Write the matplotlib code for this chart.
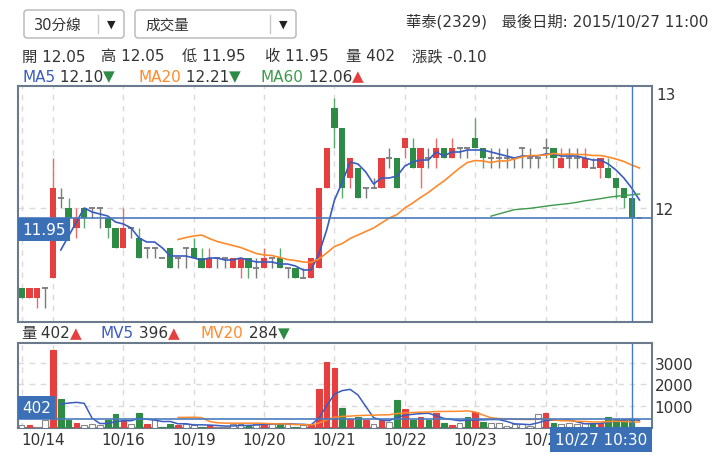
import numpy as np
import pandas as pd
import matplotlib
matplotlib.use('Agg')
import matplotlib.pyplot as plt
from matplotlib.patches import FancyBboxPatch

plt.rcParams['font.family'] = ['DejaVu Sans', 'Noto Sans CJK TC']

# 30分線 K棒 (index 0 = 10/13 最後幾根)
opens = [11.60, 11.55, 11.55, 11.60, 11.65, 12.05, 12.00, 11.90, 12.00, 12.00,
         12.00, 11.95, 11.90, 11.80, 11.90, 11.85, 11.80, 11.80, 11.75, 11.80,
         11.75, 11.80, 11.80, 11.75, 11.70, 11.75, 11.75, 11.70, 11.70, 11.75,
         11.70, 11.70, 11.75, 11.75, 11.70, 11.70, 11.65, 11.65, 11.70, 12.10,
         12.50, 12.40, 12.15, 12.20, 12.10, 12.10, 12.10, 12.25, 12.25, 12.30,
         12.30, 12.20, 12.25, 12.25, 12.30, 12.25, 12.30, 12.30, 12.35, 12.30,
         12.25, 12.25, 12.25, 12.25, 12.30, 12.25, 12.25, 12.30, 12.30, 12.20,
         12.25, 12.25, 12.20, 12.20, 12.20, 12.20, 12.15, 12.10, 12.05, 11.95]
highs = [11.60, 11.60, 11.60, 11.60, 12.25, 12.10, 12.05, 12.00, 12.00, 12.00,
         12.00, 11.95, 11.90, 12.00, 11.90, 11.90, 11.80, 11.80, 11.75, 11.80,
         11.75, 11.80, 11.85, 11.80, 11.80, 11.75, 11.75, 11.75, 11.75, 11.75,
         11.75, 11.80, 11.75, 11.80, 11.70, 11.70, 11.70, 11.75, 12.10, 12.30,
         12.55, 12.40, 12.25, 12.20, 12.10, 12.15, 12.25, 12.30, 12.25, 12.35,
         12.35, 12.30, 12.30, 12.35, 12.30, 12.35, 12.30, 12.30, 12.45, 12.30,
         12.30, 12.30, 12.30, 12.25, 12.30, 12.30, 12.25, 12.35, 12.30, 12.30,
         12.30, 12.30, 12.30, 12.25, 12.25, 12.25, 12.15, 12.10, 12.05, 11.95]
lows = [11.55, 11.55, 11.50, 11.50, 11.65, 12.00, 11.90, 11.85, 11.90, 11.95,
        11.90, 11.85, 11.80, 11.80, 11.85, 11.75, 11.75, 11.75, 11.75, 11.70,
        11.70, 11.70, 11.75, 11.70, 11.70, 11.70, 11.70, 11.70, 11.65, 11.65,
        11.65, 11.70, 11.70, 11.70, 11.65, 11.65, 11.65, 11.65, 11.70, 12.10,
        12.30, 12.05, 12.10, 12.05, 12.05, 12.10, 12.10, 12.20, 12.10, 12.25,
        12.20, 12.10, 12.20, 12.20, 12.25, 12.25, 12.25, 12.25, 12.30, 12.20,
        12.20, 12.20, 12.20, 12.20, 12.20, 12.20, 12.20, 12.25, 12.20, 12.20,
        12.20, 12.20, 12.20, 12.20, 12.15, 12.15, 12.05, 12.00, 11.95, 11.95]
closes = [11.55, 11.60, 11.60, 11.60, 12.10, 12.05, 11.95, 11.95, 11.95, 12.00,
          12.00, 11.90, 11.80, 11.90, 11.90, 11.75, 11.80, 11.80, 11.75, 11.70,
          11.75, 11.80, 11.75, 11.70, 11.75, 11.75, 11.75, 11.75, 11.75, 11.70,
          11.70, 11.75, 11.75, 11.70, 11.70, 11.65, 11.65, 11.75, 12.10, 12.30,
          12.40, 12.10, 12.25, 12.05, 12.10, 12.10, 12.25, 12.25, 12.10, 12.35,
          12.20, 12.30, 12.25, 12.30, 12.25, 12.30, 12.30, 12.30, 12.30, 12.25,
          12.25, 12.25, 12.25, 12.25, 12.30, 12.25, 12.25, 12.30, 12.25, 12.25,
          12.25, 12.25, 12.25, 12.20, 12.25, 12.15, 12.10, 12.05, 11.95, 11.95]
volumes = [124, 151, 60, 353, 3580, 1345, 381, 230, 124, 170,
           124, 381, 629, 353, 170, 689, 170, 427, 30, 184,
           151, 197, 151, 46, 124, 60, 60, 170, 170, 124,
           170, 170, 243, 243, 170, 60, 124, 124, 1790, 3015,
           2740, 918, 399, 505, 381, 170, 353, 275, 1271, 858,
           381, 505, 381, 702, 230, 124, 230, 505, 734, 270,
           210, 210, 100, 165, 190, 100, 620, 670, 210, 165,
           210, 165, 210, 210, 245, 505, 430, 398, 402, 15]
# 量的漲跌: u 漲, d 跌, n 平
vol_dir = "nunnuddunn" "nddundundd" "unndunnnnd" "nundndnuuu" \
          "ududunundu" "dududundud" "nnnnnnnudn" "nnnduddddn"

day_starts = [0, 4, 13, 22, 31, 40, 49, 58, 67, 76]
date_pos = [2.72, 13, 22, 31, 40, 49, 58, 67]
date_labels = ['10/14', '10/16', '10/19', '10/20', '10/21', '10/22', '10/23', '10/26']
cursor = 78
cursor_label = '10/27 10:30'

RED = '#e5403f'
GREEN = '#2e8b45'
GREY = '#7a7a7a'
BLUE = '#3a5cc0'
ORANGE = '#ff8a2b'
MGREEN = '#3d9a4c'
CROSS = '#4a7bbd'
TXT = '#333333'
FS = 11

W, H = 720, 464
fig = plt.figure(figsize=(W / 100, H / 100), dpi=100)

bg = fig.add_axes([0, 0, 1, 1], zorder=0)
bg.set_xlim(0, W)
bg.set_ylim(H, 0)
bg.axis('off')


def px_axes(l, t, r, b):
    return fig.add_axes([l / W, 1 - b / H, (r - l) / W, (b - t) / H], zorder=1)


ax = px_axes(18, 87, 652, 323)
axv = px_axes(18, 344, 652, 429)

o = np.array(opens)
h = np.array(highs)
lo = np.array(lows)
c = np.array(closes)
v = np.array(volumes)
x = np.arange(len(c))

up = c > o + 1e-9
dn = c < o - 1e-9
flat = ~(up | dn)


# 均線
def mavg(arr, n):
    s = pd.Series(arr).rolling(n).mean()
    s[:n] = np.nan
    return s.values


# 主圖
for a in (ax, axv):
    for d in day_starts:
        a.axvline(d, color='#dadada', lw=1, ls=(0, (4, 4)), zorder=0)
    for sp in a.spines.values():
        sp.set_color('#6b7b8c')
        sp.set_linewidth(1.5)
    a.set_xlim(-0.47, 80.6)
    a.tick_params(length=0, colors=TXT, labelsize=FS)

ax.axhline(12, color='#dadada', lw=1, ls=(0, (4, 4)), zorder=0)

wick_col = np.where(up, '#ee6a69', np.where(dn, '#5aa86c', GREY))
ax.vlines(x, lo, h, colors=wick_col, lw=1, zorder=2)
body_col = np.where(up, RED, GREEN)
m = ~flat
ax.bar(x[m], np.abs(c - o)[m], bottom=np.minimum(c, o)[m], width=0.8,
       color=body_col[m], zorder=3)
ax.hlines(c[flat], x[flat] - 0.38, x[flat] + 0.38, colors=GREY, lw=1.3, zorder=3)

ax.plot(x, mavg(c, 5), color=BLUE, lw=1.2, zorder=4)
ax.plot(x, mavg(c, 20), color=ORANGE, lw=1.2, zorder=4)
ax.plot(x, mavg(c, 60), color=MGREEN, lw=1.0, zorder=4)

ax.set_ylim(11.43, 12.61)
ax.set_xticks([])
ax.yaxis.tick_right()
ax.set_yticks([12])
ax.set_yticklabels(['12'])
ax.tick_params(axis='y', pad=2)
ax.annotate('13', xy=(1, 1), xycoords='axes fraction', xytext=(4, -1),
            textcoords='offset pixels', ha='left', va='top', fontsize=FS, color=TXT)

ax.axvline(cursor, color=CROSS, lw=1, zorder=5)
ax.axhline(c[cursor], color=CROSS, lw=1.2, zorder=5)
ax.annotate(f'{c[cursor]:.2f}', xy=(0, c[cursor]), xycoords=('axes fraction', 'data'),
            xytext=(4, -4), textcoords='offset pixels', ha='left', va='top',
            fontsize=FS, color='white', zorder=6, annotation_clip=False,
            bbox=dict(boxstyle='square,pad=0.27', fc='#3b6fb6', ec='none'))

# 量圖
face = ['white' if d == 'n' else (RED if d == 'u' else GREEN) for d in vol_dir]
edge = ['#888888' if d == 'n' else (RED if d == 'u' else GREEN) for d in vol_dir]
axv.bar(x, v, width=0.72, color=face, edgecolor=edge, linewidth=0.8, zorder=3)
for lvl in (1000, 2000, 3000):
    axv.axhline(lvl, color='#dadada', lw=1, ls=(0, (4, 4)), zorder=0)
axv.plot(x, mavg(v, 5), color=BLUE, lw=1.1, zorder=4)
axv.plot(x, mavg(v, 20), color=ORANGE, lw=1.1, zorder=4)
axv.set_ylim(0, 3900)
axv.yaxis.tick_right()
axv.set_yticks([1000, 2000, 3000])
axv.tick_params(axis='y', pad=2)
axv.set_xticks(date_pos)
axv.set_xticklabels(date_labels)
axv.tick_params(axis='x', pad=3)

axv.axvline(cursor, color=CROSS, lw=1, zorder=5)
axv.axhline(v[cursor], color=CROSS, lw=1.2, zorder=5)
axv.annotate(f'{v[cursor]}', xy=(0, v[cursor]), xycoords=('axes fraction', 'data'),
             xytext=(4, 4), textcoords='offset pixels', ha='left', va='bottom',
             fontsize=FS, color='white', zorder=6, annotation_clip=False,
             bbox=dict(boxstyle='square,pad=0.27', fc='#3b6fb6', ec='none'))
axv.annotate(cursor_label, xy=(1, 0), xycoords='axes fraction',
             xytext=(-5, -4), textcoords='offset pixels', ha='right', va='top',
             fontsize=FS, color='white', zorder=10, annotation_clip=False,
             bbox=dict(boxstyle='square,pad=0.3', fc='#3b6fb6', ec='none'))


# 上方文字
def rich(x0, y0, parts, size=FS):
    t = bg.text(x0, y0, parts[0][0], color=parts[0][1], fontsize=size,
                ha='left', va='center')
    for s, col in parts[1:]:
        t = bg.annotate(s, xy=(1, 0), xycoords=t, ha='left', va='bottom',
                        color=col, fontsize=size)
    return t


for (l, r, sep, label) in [(24, 124, 98, '30分線'), (135, 296, 270, '成交量')]:
    bg.add_patch(FancyBboxPatch((l, 11), r - l, 28,
                                boxstyle='round,pad=0,rounding_size=3',
                                fc='white', ec='#b5b5b5', lw=1))
    bg.plot([sep, sep], [16, 34], color='#c8c8c8', lw=1)
    bg.text(l + 10, 25, label, fontsize=10.5, color=TXT, va='center', ha='left')
    bg.text((sep + r) / 2, 25, '▼', fontsize=8, color='#222222', va='center', ha='center')

bg.text(708, 22, '華泰(2329)   最後日期: 2015/10/27 11:00', fontsize=FS,
        color=TXT, ha='right', va='center')

info = [(22, '開 12.05'), (101, '高 12.05'), (182, '低 11.95'),
        (265, '收 11.95'), (346, '量 402'), (412, '漲跌 -0.10')]
for px, s in info:
    bg.text(px, 57, s, fontsize=FS, color=TXT, ha='left', va='center')

rich(22, 77, [('MA5', BLUE), (' 12.10', TXT), ('▼', GREEN)])
rich(138, 77, [('MA20', ORANGE), (' 12.21', TXT), ('▼', GREEN)])
rich(261, 77, [('MA60', MGREEN), (' 12.06', TXT), ('▲', RED)])

rich(21, 334, [('量', TXT), (' 402', TXT), ('▲', RED)])
rich(101, 334, [('MV5', BLUE), (' 396', TXT), ('▲', RED)])
rich(201, 334, [('MV20', ORANGE), (' 284', TXT), ('▼', GREEN)])

fig.savefig('out.png', dpi=100, facecolor='white')
